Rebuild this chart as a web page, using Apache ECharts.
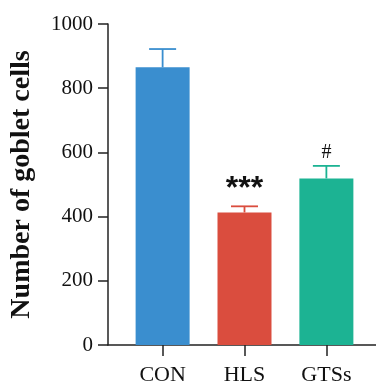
<!DOCTYPE html>
<html><head><meta charset="utf-8">
<script src="https://cdn.jsdelivr.net/npm/echarts@6/dist/echarts.min.js"></script>
<style>html,body{margin:0;padding:0;background:#fff}#c{width:376px;height:386px}</style>
</head><body><div id="c"></div>
<script>
const categories = ['CON', 'HLS', 'GTSs'];
const means = [865, 413, 519];
const errors = [57, 19, 39];
const marks = ['', '***', '#'];
const colors = ['#3a8ecf', '#da4d3e', '#1cb393'];

const chart = echarts.init(document.getElementById('c'));
const serif = 'Liberation Serif';
chart.setOption({
  animation: false,
  grid: {left: 106, top: 24, right: 0, bottom: 38},
  xAxis: {
    type: 'value', min: -0.667, max: 2.606,
    splitLine: {show: false},
    axisLine: {show: true, onZero: false, lineStyle: {color: '#222', width: 1.5}},
    axisTick: {show: true, length: 11, customValues: [0, 1, 2], lineStyle: {color: '#222', width: 1.5}},
    axisLabel: {customValues: [0, 1, 2], formatter: v => categories[Math.round(v)] || '',
      fontFamily: serif, fontSize: 22, color: '#111', margin: 19}
  },
  yAxis: {
    type: 'value', min: 0, max: 1000, interval: 200,
    name: 'Number of goblet cells', nameLocation: 'middle', nameGap: 72,
    nameTextStyle: {fontFamily: serif, fontWeight: 'bold', fontSize: 28, color: '#111'},
    splitLine: {show: false},
    axisLine: {show: true, onZero: false, lineStyle: {color: '#222', width: 1.5}},
    axisTick: {show: true, length: 10, lineStyle: {color: '#222', width: 1.5}},
    axisLabel: {fontFamily: serif, fontSize: 21, color: '#111', margin: 15, formatter: v => String(v)}
  },
  series: [
    {
      type: 'bar', barWidth: 54,
      data: means.map((m, i) => ({value: [i, m], itemStyle: {color: colors[i]}}))
    },
    {
      type: 'custom',
      data: means.map((m, i) => [i, m, m + errors[i]]),
      renderItem: (params, api) => {
        const i = api.value(0);
        const base = api.coord([i, api.value(1)]);
        const top = api.coord([i, api.value(2)]);
        const c = colors[params.dataIndex];
        const children = [
          {type: 'line', shape: {x1: base[0], y1: base[1], x2: top[0], y2: top[1]}, style: {stroke: c, lineWidth: 1.8}},
          {type: 'line', shape: {x1: top[0] - 13.5, y1: top[1], x2: top[0] + 13.5, y2: top[1]}, style: {stroke: c, lineWidth: 1.8}}
        ];
        const mk = marks[params.dataIndex];
        if (mk === '***') {
          children.push({type: 'text', style: {text: mk, x: top[0], y: top[1] - 17, align: 'center', verticalAlign: 'middle',
            font: 'bold 32px "Liberation Sans"', fill: '#111'}});
        } else if (mk) {
          children.push({type: 'text', style: {text: mk, x: top[0], y: top[1] - 13, align: 'center', verticalAlign: 'middle',
            font: '20px "Liberation Serif"', fill: '#111'}});
        }
        return {type: 'group', children};
      },
      z: 3
    }
  ]
});
</script></body></html>
